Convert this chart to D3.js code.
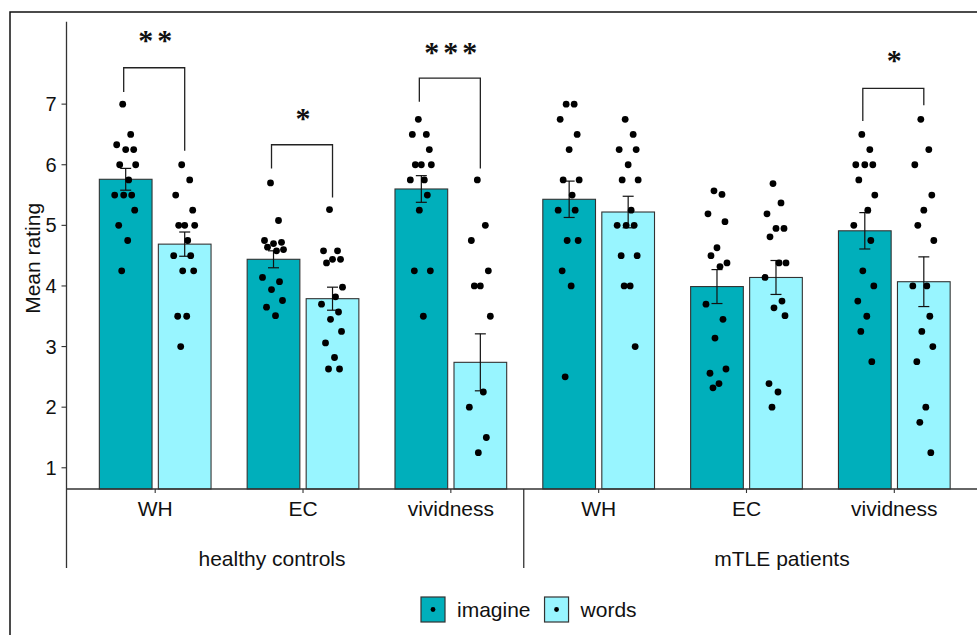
<!DOCTYPE html>
<html>
<head>
<meta charset="utf-8">
<script src="https://cdn.jsdelivr.net/npm/d3@7/dist/d3.min.js"></script>
<style>
  body { margin: 0; background: #ffffff; }
  svg { display: block; }
</style>
</head>
<body>
<svg id="chart" width="977" height="635"></svg>
<script>

var groups = ["healthy controls", "mTLE patients"];
var measures = ["WH", "EC", "vividness"];
var conditions = ["imagine", "words"];
var yTicks = [1, 2, 3, 4, 5, 6, 7];

// bar means and standard errors, in the order WH, EC, vividness
var hcImagineMean = [5.76, 4.44, 5.60];
var hcImagineSE   = [0.18, 0.14, 0.22];
var hcWordsMean   = [4.69, 3.79, 2.74];
var hcWordsSE     = [0.20, 0.19, 0.47];
var ptImagineMean = [5.43, 3.99, 4.91];
var ptImagineSE   = [0.30, 0.28, 0.30];
var ptWordsMean   = [5.22, 4.14, 4.07];
var ptWordsSE     = [0.26, 0.28, 0.41];

// individual ratings (dots)
var hcImagineRatings = [
	[7, 6.5, 6.33, 6.25, 6.25, 6, 6, 5.75, 5.5, 5.5, 5.5, 5.25, 5, 4.75, 4.25],
	[5.7, 5.08, 4.75, 4.72, 4.7, 4.64, 4.6, 4.58, 4.14, 4.07, 3.94, 3.76, 3.65, 3.51],
	[6.75, 6.5, 6.5, 6.25, 6, 6, 6, 5.75, 5.75, 5.5, 5.25, 4.25, 4.25, 3.5]
];
var hcWordsRatings = [
	[6, 5.75, 5.5, 5.25, 5, 5, 5, 4.75, 4.5, 4.5, 4.25, 4.25, 3.5, 3.5, 3],
	[5.26, 4.58, 4.58, 4.44, 4.44, 4.38, 3.98, 3.82, 3.7, 3.57, 3.45, 3.25, 3.06, 2.82, 2.63, 2.63],
	[5.75, 5, 4.75, 4.25, 4, 4, 3.5, 2.25, 2, 1.5, 1.25]
];
var ptImagineRatings = [
	[7, 7, 6.75, 6.5, 6.25, 5.75, 5.75, 5.5, 5.25, 5.25, 4.75, 4.75, 4.25, 4, 2.5],
	[5.57, 5.51, 5.19, 5.06, 4.63, 4.5, 4.38, 4.32, 3.7, 3.45, 3.14, 2.63, 2.56, 2.39, 2.32],
	[6.5, 6.25, 6, 6, 6, 5.75, 5.5, 5.25, 5, 4.75, 4.25, 4, 3.75, 3.5, 3.25, 2.75]
];
var ptWordsRatings = [
	[6.75, 6.5, 6.25, 6.25, 6, 5.75, 5.75, 5.25, 5, 5, 5, 4.5, 4.5, 4, 4, 3],
	[5.69, 5.37, 5.19, 4.95, 4.95, 4.81, 4.38, 4.38, 4.14, 3.75, 3.64, 3.51, 2.39, 2.25, 2],
	[6.75, 6.25, 6, 5.5, 5.25, 5, 4.75, 4, 4, 3.5, 3.25, 3, 2.75, 2, 1.75, 1.25]
];

// significance brackets: group, measure, bracket top, left tip, right tip, label height (rating units)
var brackets = [
	{ group: 0, measure: "WH",        top: 7.60, left: 7.20, right: 6.23, labelAt: 8.14, label: "**" },
	{ group: 0, measure: "EC",        top: 6.33, left: 5.94, right: 5.46, labelAt: 6.86, label: "*" },
	{ group: 0, measure: "vividness", top: 7.43, left: 7.04, right: 5.94, labelAt: 7.95, label: "***" },
	{ group: 1, measure: "vividness", top: 7.26, left: 6.72, right: 6.98, labelAt: 7.81, label: "*" }
];


var COLORS = { imagine: "#00AFBB", words: "#98F5FF" };
var FONT = "Liberation Sans, Arial, sans-serif";
var AXIS_COLOR = "#333333";
var TEXT_COLOR = "#111111";
var DOT_RADIUS = 3.4;
var CAP_HALF = 5.5;

// horizontal offsets for the jittered points
var JITTER = [-3, 5, -9, 8, 0, -6, 10, 3, -11, 6, -2, 9, -7, 2, -4, 7];

var plot = { left: 66.5, right: 983, top: 21.7, bottom: 489 };

var svg = d3.select("#chart");

// outer frame (right and bottom edges fall outside the picture)
svg.append("rect")
	.attr("x", 10).attr("y", 12)
	.attr("width", 1100).attr("height", 800)
	.attr("fill", "none")
	.attr("stroke", "#111")
	.attr("stroke-width", 1.5);

var means = [[hcImagineMean, hcWordsMean], [ptImagineMean, ptWordsMean]];
var ses = [[hcImagineSE, hcWordsSE], [ptImagineSE, ptWordsSE]];
var ratings = [[hcImagineRatings, hcWordsRatings], [ptImagineRatings, ptWordsRatings]];

function catKey(g, m) {
	return groups[g] + "|" + m;
}

var catKeys = [];
var rows = [];
for (var g = 0; g < groups.length; g++) {
	for (var m = 0; m < measures.length; m++) {
		catKeys.push(catKey(g, measures[m]));
		for (var c = 0; c < conditions.length; c++) {
			rows.push({
				key: catKey(g, measures[m]),
				group: g,
				measure: measures[m],
				cond: conditions[c],
				mean: means[g][c][m],
				se: ses[g][c][m],
				points: ratings[g][c][m]
			});
		}
	}
}

var x = d3.scalePoint()
	.domain(catKeys)
	.range([plot.left, plot.right])
	.padding(0.6);

var xInner = d3.scaleBand()
	.domain(conditions)
	.range([-55.85, 55.85])
	.paddingInner(0.107);

var y = d3.scaleLinear()
	.domain([0.65, 8.36])
	.range([plot.bottom, plot.top]);

// bars
svg.append("g").selectAll("rect")
	.data(rows)
	.enter().append("rect")
	.attr("x", function(d) { return x(d.key) + xInner(d.cond); })
	.attr("y", function(d) { return y(d.mean); })
	.attr("width", xInner.bandwidth())
	.attr("height", function(d) { return y(0.65) - y(d.mean); })
	.attr("fill", function(d) { return COLORS[d.cond]; })
	.attr("stroke", "#333")
	.attr("stroke-width", 1.1);

// error bars
var eb = svg.append("g")
	.attr("stroke", "#111")
	.attr("stroke-width", 1.2);
rows.forEach(function(d) {
	var cx = x(d.key) + xInner(d.cond) + xInner.bandwidth() / 2;
	var y1 = y(d.mean + d.se), y2 = y(d.mean - d.se);
	eb.append("line").attr("x1", cx).attr("x2", cx).attr("y1", y1).attr("y2", y2);
	eb.append("line").attr("x1", cx - CAP_HALF).attr("x2", cx + CAP_HALF).attr("y1", y1).attr("y2", y1);
	eb.append("line").attr("x1", cx - CAP_HALF).attr("x2", cx + CAP_HALF).attr("y1", y2).attr("y2", y2);
});

// jittered points
var dots = svg.append("g").attr("fill", "#000");
rows.forEach(function(d) {
	var cx = x(d.key) + xInner(d.cond) + xInner.bandwidth() / 2;
	dots.selectAll(null)
		.data(d.points)
		.enter().append("circle")
		.attr("cx", function(v, i) { return cx + JITTER[i % JITTER.length]; })
		.attr("cy", function(v) { return y(v); })
		.attr("r", DOT_RADIUS);
});

// significance brackets
var br = svg.append("g");
brackets.forEach(function(b) {
	var key = catKey(b.group, b.measure);
	var xl = x(key) + xInner("imagine") + xInner.bandwidth() / 2 - 2;
	var xr = x(key) + xInner("words") + xInner.bandwidth() / 2;
	br.append("path")
		.attr("d", "M" + xl + "," + y(b.left) + "V" + y(b.top) + "H" + xr + "V" + y(b.right))
		.attr("fill", "none")
		.attr("stroke", "#222")
		.attr("stroke-width", 1.3);
	br.append("text")
		.attr("x", x(key) + 2)
		.attr("y", y(b.labelAt) + 15)
		.attr("text-anchor", "middle")
		.attr("font-family", "Liberation Serif, Times New Roman, serif")
		.attr("font-weight", "bold")
		.attr("font-size", 30)
		.attr("letter-spacing", 4)
		.attr("fill", "#111")
		.text(b.label);
});

// y axis
var yAxis = svg.append("g");
yAxis.append("line")
	.attr("x1", plot.left).attr("x2", plot.left)
	.attr("y1", plot.top).attr("y2", 568)
	.attr("stroke", AXIS_COLOR).attr("stroke-width", 1.3);
yTicks.forEach(function(t) {
	yAxis.append("line")
		.attr("x1", plot.left - 5).attr("x2", plot.left)
		.attr("y1", y(t)).attr("y2", y(t))
		.attr("stroke", AXIS_COLOR).attr("stroke-width", 1.1);
	yAxis.append("text")
		.attr("x", plot.left - 10)
		.attr("y", y(t) + 7)
		.attr("text-anchor", "end")
		.attr("font-family", FONT)
		.attr("font-size", 20)
		.attr("fill", TEXT_COLOR)
		.text(t);
});

svg.append("text")
	.attr("transform", "translate(39.5," + ((plot.top + plot.bottom) / 2 + 3) + ") rotate(-90)")
	.attr("text-anchor", "middle")
	.attr("font-family", FONT)
	.attr("font-size", 21)
	.attr("fill", TEXT_COLOR)
	.text("Mean rating");

// x axis with nested labels
var xAxis = svg.append("g");
xAxis.append("line")
	.attr("x1", plot.left).attr("x2", plot.right)
	.attr("y1", plot.bottom).attr("y2", plot.bottom)
	.attr("stroke", AXIS_COLOR).attr("stroke-width", 1.3);

catKeys.forEach(function(k) {
	xAxis.append("line")
		.attr("x1", x(k)).attr("x2", x(k))
		.attr("y1", plot.bottom).attr("y2", plot.bottom + 4)
		.attr("stroke", AXIS_COLOR).attr("stroke-width", 1.1);
	xAxis.append("text")
		.attr("x", x(k))
		.attr("y", 516)
		.attr("text-anchor", "middle")
		.attr("font-family", FONT)
		.attr("font-size", 21)
		.attr("fill", TEXT_COLOR)
		.text(k.split("|")[1]);
});

// divider between the two groups
var divX = (x(catKey(0, "vividness")) + x(catKey(1, "WH"))) / 2 - 1;
xAxis.append("line")
	.attr("x1", divX).attr("x2", divX)
	.attr("y1", plot.bottom).attr("y2", 568)
	.attr("stroke", AXIS_COLOR).attr("stroke-width", 1.3);

var groupLabelX = [272, 782];
groups.forEach(function(name, i) {
	xAxis.append("text")
		.attr("x", groupLabelX[i])
		.attr("y", 566)
		.attr("text-anchor", "middle")
		.attr("font-family", FONT)
		.attr("font-size", 21)
		.attr("fill", TEXT_COLOR)
		.text(name);
});

// legend
var legend = svg.append("g");
var lx = 421;
conditions.forEach(function(cond) {
	legend.append("rect")
		.attr("x", lx).attr("y", 597)
		.attr("width", 24).attr("height", 25)
		.attr("fill", COLORS[cond])
		.attr("stroke", "#333")
		.attr("stroke-width", 1.2);
	legend.append("circle")
		.attr("cx", lx + 12).attr("cy", 609.5)
		.attr("r", 2.4)
		.attr("fill", "#000");
	var t = legend.append("text")
		.attr("x", lx + 36)
		.attr("y", 617)
		.attr("font-family", FONT)
		.attr("font-size", 21)
		.attr("fill", TEXT_COLOR)
		.text(cond);
	lx = lx + 36 + t.node().getComputedTextLength() + 14;
});

</script>
</body>
</html>
